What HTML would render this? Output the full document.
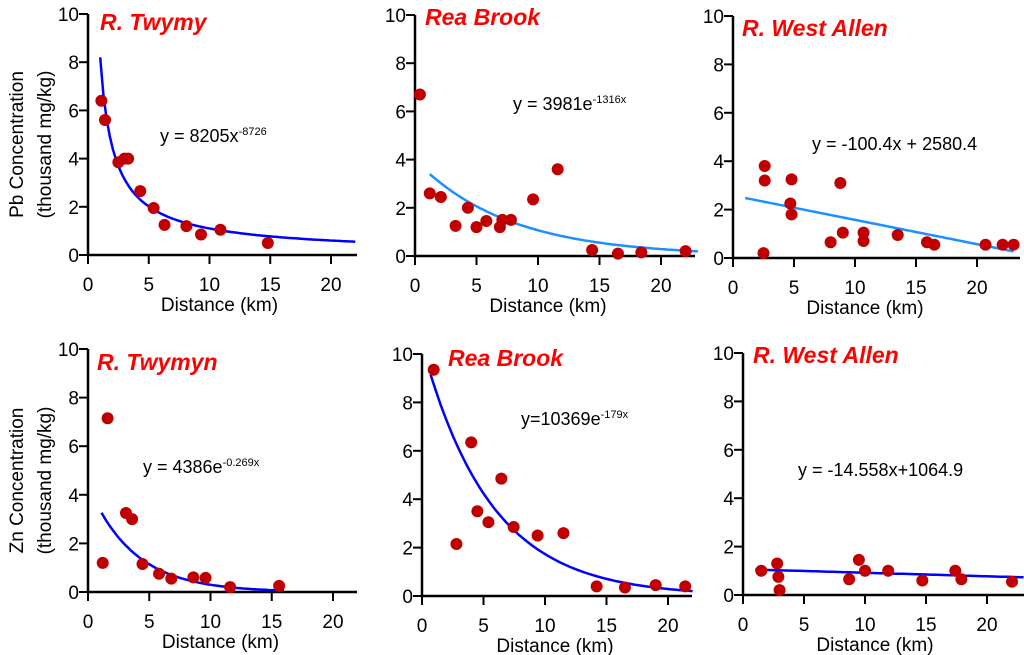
<!DOCTYPE html>
<html><head><meta charset="utf-8"><style>
html,body{margin:0;padding:0;background:#fff}
svg{display:block;font-family:"Liberation Sans",Arial,sans-serif}
</style></head><body>
<svg id="c" width="1024" height="655" viewBox="0 0 1024 655"></svg>
<script>
// Panel data (x in km, y in thousand mg/kg)
const p1X=[1.1,1.4,2.5,3.0,3.3,4.3,5.4,6.3,8.1,9.3,10.9,14.8];
const p1Y=[6.4,5.6,3.85,4.0,4.0,2.65,1.95,1.25,1.2,0.85,1.05,0.5];
const p2X=[0.4,1.2,2.1,3.3,4.3,5.0,5.8,6.9,7.1,7.8,9.6,11.6,14.4,16.5,18.4,22.0];
const p2Y=[6.7,2.6,2.45,1.25,2.0,1.2,1.45,1.2,1.5,1.5,2.35,3.6,0.25,0.1,0.15,0.2];
const p3X=[2.6,2.6,2.5,4.8,4.7,4.8,8.8,9.0,8.0,10.7,10.7,13.5,15.9,16.5,20.7,22.1,23.0];
const p3Y=[3.8,3.2,0.2,3.25,2.25,1.8,3.1,1.05,0.65,1.05,0.7,0.95,0.65,0.55,0.55,0.55,0.55];
const p4X=[1.2,1.6,3.1,3.6,4.45,5.8,6.8,8.6,9.6,11.6,15.6];
const p4Y=[1.2,7.15,3.25,3.0,1.15,0.75,0.55,0.6,0.58,0.2,0.25];
const p5X=[0.95,2.8,4.0,4.5,5.4,6.45,7.45,9.4,11.5,14.2,16.5,19.0,21.4];
const p5Y=[9.35,2.15,6.35,3.5,3.05,4.85,2.85,2.5,2.6,0.4,0.35,0.45,0.4];
const p6X=[1.5,2.8,2.9,3.0,8.7,9.5,10.0,11.9,14.7,17.4,17.9,22.05];
const p6Y=[1.0,1.3,0.75,0.2,0.65,1.45,1.0,1.0,0.6,1.0,0.65,0.55];
const xTicks=[0,5,10,15,20];
const yTicks=[0,2,4,6,8,10];
const titles=["R. Twymy","Rea Brook","R. West Allen","R. Twymyn","Rea Brook","R. West Allen"];
const fits=[
 {f:x=>8.205*Math.pow(x,-0.8726),x0:1.0,x1:22,col:"#0000ff"},
 {f:x=>3.981*Math.exp(-0.1316*x),x0:1.2,x1:23,col:"#1e8fff"},
 {f:x=>2.5804-0.1004*x,x0:1.0,x1:23,col:"#1e8fff"},
 {f:x=>4.386*Math.exp(-0.269*x),x0:1.1,x1:16,col:"#0000ff"},
 {f:x=>10.369*Math.exp(-0.179*x),x0:0.7,x1:22,col:"#0000ff"},
 {f:x=>1.0649-0.014558*x,x0:1.0,x1:23,col:"#0000ff"}
];
const panels=[
 {ox:88,y0:255,y10:14,x20:331,xe:357,X:p1X,Y:p1Y,tx:100,ty:30,eq:["y = 8205x","-8726"],ex:160,ey:142,yt:["Pb Concentration","(thousand mg/kg)"]},
 {ox:415,y0:256,y10:15,x20:661,xe:695,X:p2X,Y:p2Y,tx:425,ty:25,eq:["y = 3981e","-1316x"],ex:513,ey:110},
 {ox:733,y0:258,y10:16,x20:977,xe:1020,X:p3X,Y:p3Y,tx:742,ty:36,eq:["y = -100.4x + 2580.4",""],ex:812,ey:150},
 {ox:88,y0:592,y10:349,x20:333,xe:357,X:p4X,Y:p4Y,tx:97,ty:370,eq:["y = 4386e","-0.269x"],ex:143,ey:473,yt:["Zn Concentration","(thousand mg/kg)"]},
 {ox:422,y0:596,y10:354,x20:668,xe:692,X:p5X,Y:p5Y,tx:448,ty:366,eq:["y=10369e","-179x"],ex:521,ey:425},
 {ox:743,y0:595,y10:353,x20:987,xe:1024,X:p6X,Y:p6Y,tx:753,ty:363,eq:["y = -14.558x+1064.9",""],ex:798,ey:476}
];
const NS="http://www.w3.org/2000/svg";
const svg=document.getElementById("c");
function mk(t,a,parent){const e=document.createElementNS(NS,t);for(const k in a)e.setAttribute(k,a[k]);(parent||svg).appendChild(e);return e;}
panels.forEach((p,i)=>{
 const g=mk("g",{});
 
 
 const sx=x=>p.ox+x*(p.x20-p.ox)/20;
 const sy=y=>p.y0-y*(p.y0-p.y10)/10;
 const ax=mk("path",{d:`M${p.ox},${p.y10}V${p.y0}H${p.xe}`,stroke:"#000","stroke-width":2.5,fill:"none"},g);
 
 
 yTicks.forEach(v=>{
  mk("line",{x1:p.ox-9,x2:p.ox,y1:sy(v),y2:sy(v),stroke:"#000","stroke-width":2},g);
  const t=mk("text",{x:p.ox-9,y:sy(v)+7,"text-anchor":"end","font-size":19,fill:"#000"},g);
  t.textContent=v;
  
  
 });
 xTicks.forEach(v=>{
  mk("line",{x1:sx(v),x2:sx(v),y1:p.y0,y2:p.y0+9,stroke:"#000","stroke-width":2},g);
  const t=mk("text",{x:sx(v),y:p.y0+36,"text-anchor":"middle","font-size":19,fill:"#000"},g);
  t.textContent=v;
  
  
 });
 const xl=mk("text",{x:(p.ox+p.x20)/2+10,y:p.y0+56,"text-anchor":"middle","font-size":19,fill:"#000"},g);
 xl.textContent="Distance (km)";
 
 
 if(p.yt){
  const cy=(p.y0+p.y10)/2+10;
  p.yt.forEach((s,k)=>{
   const t=mk("text",{x:0,y:0,transform:`translate(${23+k*28},${cy}) rotate(-90)`,"text-anchor":"middle","font-size":19,fill:"#000"},g);
   t.textContent=s;
   
   
  });
 }
 const ti=mk("text",{x:p.tx,y:p.ty,"font-size":23,"font-weight":"bold","font-style":"italic",fill:"#ff0000"},g);
 ti.textContent=titles[i];
 
 
 const eq=mk("text",{x:p.ex,y:p.ey,"font-size":18,fill:"#000"},g);
 
 
 const a=mk("tspan",{},eq);a.textContent=p.eq[0];
 if(p.eq[1]){const b=mk("tspan",{"font-size":11,dy:-7},eq);b.textContent=p.eq[1];}
 const F=fits[i];let d="";
 for(let k=0;k<=80;k++){const x=F.x0+(F.x1-F.x0)*k/80;d+=(k?"L":"M")+sx(x).toFixed(1)+","+sy(F.f(x)).toFixed(1);}
 const ln=mk("path",{d:d,stroke:F.col,"stroke-width":2.5,fill:"none"},g);
 
 
 p.X.forEach((x,k)=>{
  const c=mk("circle",{cx:sx(x),cy:sy(p.Y[k]),r:6,fill:"#c00000"},g);
  
  
 });
});
</script>
</body></html>
